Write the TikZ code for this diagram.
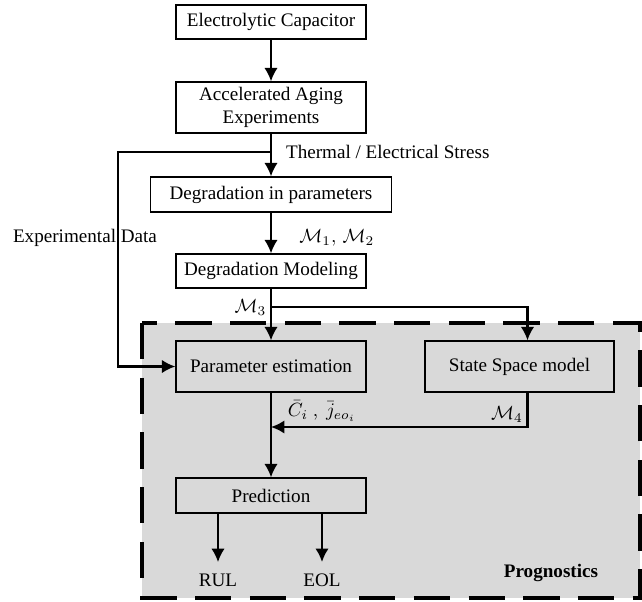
\documentclass[tikz,border=0pt]{standalone}
\usepackage{fontspec}
\setmainfont{Liberation Serif}
\usepackage{tikz}
\usetikzlibrary{arrows.meta, positioning}
\def\pxu{0.523pt}
\tikzset{>={Latex[length=7pt, width=7pt]},
	block/.style={draw, line width=0.7pt, align=center, inner sep=0pt},
	outcome/.style={inner sep=5.5pt},
	every edge/.style={draw, ->, line width=1.1pt}}

\begin{document}
\begin{tikzpicture}[x=\pxu, y=-\pxu, line width=1.1pt]
	\useasboundingbox (0,0) rectangle (642,601);
	% prognostics region
	\fill[black!15] (142,323) rectangle (640,598);
	\draw[line width=1.6pt, dash pattern=on 19pt off 9.6pt] (142,323) rectangle (640,598);
	\node[font=\bfseries] at (551,573) (Progn) {Prognostics};

	\node[block, minimum width=190*\pxu, minimum height=34*\pxu] at (271,22) (Cap) {Electrolytic Capacitor};
	\node[block, minimum width=190*\pxu, minimum height=51*\pxu] at (271,107.5) (Aging) {Accelerated Aging\\Experiments};
	\node[block, minimum width=241*\pxu, minimum height=35*\pxu] at (271,194.5) (DegPar) {Degradation in parameters};
	\node[block, minimum width=190*\pxu, minimum height=34*\pxu] at (271,271) (DegMod) {Degradation Modeling};
	\node[block, minimum width=190*\pxu, minimum height=51*\pxu] at (271,366.5) (ParEst) {Parameter estimation};
	\node[block, minimum width=189*\pxu, minimum height=51*\pxu] at (519.5,366.5) (SSM) {State Space model};
	\node[block, minimum width=190*\pxu, minimum height=35*\pxu] at (271,495.5) (Pred) {Prediction};
	\node[outcome] at (218,580) (RUL) {RUL};
	\node[outcome] at (322,580) (EOL) {EOL};

	\coordinate (Tap) at (271,152);
	\coordinate (Corner) at (118,152);
	\coordinate (Split) at (271,307);
	\coordinate (Merge) at (271,427);

	\draw
		(Cap) edge (Aging)
		(Aging) edge node[right, pos=0.43, xshift=4pt]{Thermal / Electrical Stress} (DegPar)
		(DegPar) edge node[right, pos=0.62, xshift=11pt]{$\mathcal{M}_1,\, \mathcal{M}_2$} (DegMod)
		(DegMod) edge node[left, pos=0.36, inner sep=2pt]{$\mathcal{M}_3$} (ParEst)
		(ParEst) edge node[right, pos=0.22, xshift=5pt]{$\bar{C}_i\ ,\ \bar{j}_{eo_i}$} (Pred);
	\draw[->] (Tap) -- (Corner) |- (ParEst);
	\node at (85,238) (ExpData) {Experimental Data};
	\draw[->] (Split) -| ([xshift=8*\pxu]SSM.north);
	\draw[->] ([xshift=8*\pxu]SSM.south) |- node[pos=0.5, anchor=south east, inner sep=2pt]{$\mathcal{M}_4$} (Merge);
	\draw[->] (Pred.south -| RUL) -- (RUL);
	\draw[->] (Pred.south -| EOL) -- (EOL);
\end{tikzpicture}
\end{document}
